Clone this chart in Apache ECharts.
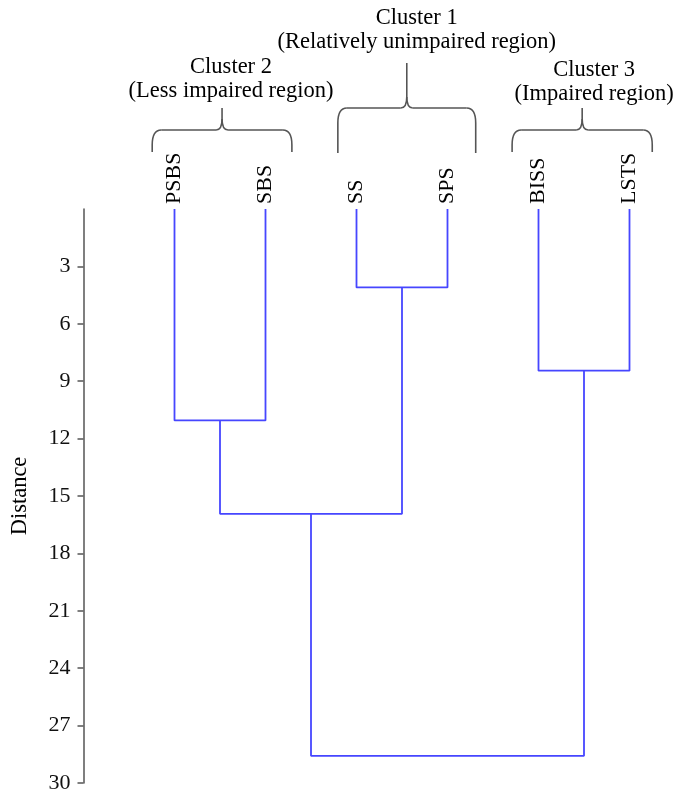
<!DOCTYPE html>
<html>
<head>
<meta charset="utf-8">
<script src="https://cdn.jsdelivr.net/npm/echarts@6/dist/echarts.min.js"></script>
<style>html,body{margin:0;padding:0;background:#fff;}#c{width:675px;height:791px;}</style>
</head>
<body>
<div id="c"></div>
<script>
// ---- data ----
var leaves = ['PSBS', 'SBS', 'SS', 'SPS', 'BISS', 'LSTS'];
// linkage: node ids 0..5 are leaves, 6.. are merges in order
var linkLeft = [0, 2, 4, 6, 9];
var linkRight = [1, 3, 5, 7, 8];
var linkHeight = [11.05, 4.1, 8.45, 15.93, 28.58];
var yTicks = [3, 6, 9, 12, 15, 18, 21, 24, 27, 30];
var clusterTitles = ['Cluster 2', 'Cluster 1', 'Cluster 3'];
var clusterDescs = ['(Less impaired region)', '(Relatively unimpaired region)', '(Impaired region)'];
var clusterLeaves = [[0, 1], [2, 3], [4, 5]];

// ---- layout (not data) ----
var FONT = '"Liberation Serif", "Times New Roman", serif';
var LINE = '#4646ff';
var bracketPad = [[0.245, 0.29], [0.205, 0.31], [0.29, 0.25]];
var bracketY = [{bottom: 152, mid: 130, top: 108}, {bottom: 153, mid: 108, top: 63}, {bottom: 152, mid: 130, top: 108}];
var textCY = [79, 30, 82];
var textDX = [9, 10, 12];

// build node positions
var nodeX = leaves.map(function (_, i) { return i; });
var nodeH = leaves.map(function () { return 0; });
var series = [];
for (var k = 0; k < linkLeft.length; k++) {
  var a = linkLeft[k], b = linkRight[k], h = linkHeight[k];
  series.push({
    type: 'line',
    data: [[nodeX[a], nodeH[a]], [nodeX[a], h], [nodeX[b], h], [nodeX[b], nodeH[b]]],
    symbol: 'none',
    lineStyle: {color: LINE, width: 1.8},
    silent: true,
    animation: false
  });
  nodeX.push((nodeX[a] + nodeX[b]) / 2);
  nodeH.push(h);
}

var chart = echarts.init(document.getElementById('c'));
chart.setOption({
  backgroundColor: '#fff',
  animation: false,
  grid: {left: 83.5, right: 0, top: 209, bottom: 8, outerBoundsMode: 'none', containLabel: false},
  xAxis: {
    type: 'value', min: -1, max: 5.5, position: 'top',
    axisLine: {show: false}, axisTick: {show: false}, splitLine: {show: false},
    axisLabel: {
      customValues: leaves.map(function (_, i) { return i; }),
      formatter: function (v) { return leaves[Math.round(v)]; },
      rotate: 90, margin: 5, fontSize: 22, color: '#000', fontFamily: FONT
    }
  },
  yAxis: {
    type: 'value', inverse: true, min: 0, max: 30, interval: 3,
    name: 'Distance', nameLocation: 'middle', nameRotate: 90, nameGap: 52,
    nameTextStyle: {fontSize: 22.5, color: '#000', fontFamily: FONT},
    axisLine: {show: true, onZero: false, lineStyle: {color: '#555', width: 1.5}},
    axisTick: {show: true, customValues: yTicks, length: 6, lineStyle: {color: '#555', width: 1.5}},
    axisLabel: {customValues: yTicks, margin: 13, fontSize: 22, color: '#111', fontFamily: FONT},
    splitLine: {show: false}
  },
  series: series
});

// brackets and cluster labels
var graphics = [];
var bStyle = {stroke: '#555', lineWidth: 1.6, fill: null};
function ln(x1, y1, x2, y2) {
  graphics.push({type: 'line', shape: {x1: x1, y1: y1, x2: x2, y2: y2}, style: bStyle, silent: true});
}
function qc(x1, y1, cx, cy, x2, y2) {
  graphics.push({type: 'bezierCurve', shape: {x1: x1, y1: y1, cpx1: cx, cpy1: cy, x2: x2, y2: y2}, style: bStyle, silent: true});
}
for (var c = 0; c < clusterTitles.length; c++) {
  var l0 = clusterLeaves[c][0], l1 = clusterLeaves[c][1];
  var xL = chart.convertToPixel({xAxisIndex: 0}, l0 - bracketPad[c][0]);
  var xR = chart.convertToPixel({xAxisIndex: 0}, l1 + bracketPad[c][1]);
  var xc = (xL + xR) / 2;
  var yb = bracketY[c].bottom, ym = bracketY[c].mid, yt = bracketY[c].top;
  var r = 9, rh = 15, rp = 6, rph = 11;
  ln(xL, yb, xL, ym + rh);
  qc(xL, ym + rh, xL, ym, xL + r, ym);
  ln(xL + r, ym, xc - rp, ym);
  qc(xc - rp, ym, xc, ym, xc, ym - rph);
  ln(xc, ym - rph, xc, yt);
  qc(xc, ym - rph, xc, ym, xc + rp, ym);
  ln(xc + rp, ym, xR - r, ym);
  qc(xR - r, ym, xR, ym, xR, ym + rh);
  ln(xR, ym + rh, xR, yb);
  graphics.push({
    type: 'text', x: xc + textDX[c], y: textCY[c],
    style: {
      text: clusterTitles[c] + '\n' + clusterDescs[c],
      font: '22.5px ' + FONT, fill: '#000',
      align: 'center', verticalAlign: 'middle', lineHeight: 24
    }, silent: true
  });
}
chart.setOption({graphic: graphics});
</script>
</body>
</html>
